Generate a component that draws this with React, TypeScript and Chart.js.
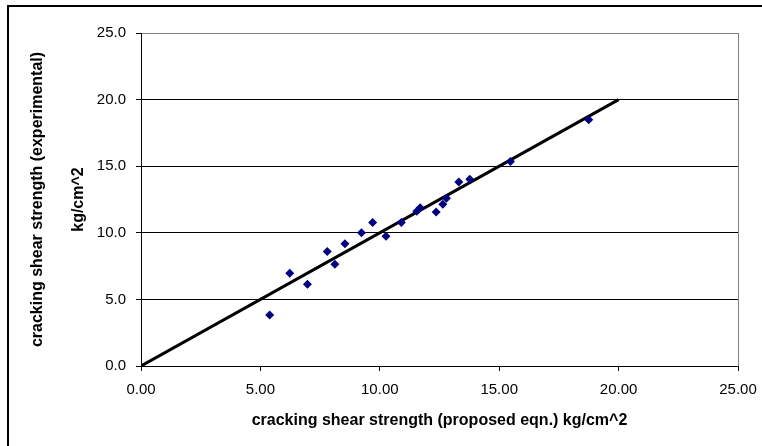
import React, { useEffect, useRef } from "react";
import { Chart, registerables } from "chart.js";

Chart.register(...registerables);

// Proposed equation (x) vs experimental (y) cracking shear strength, kg/cm^2
const proposedX = [5.39, 6.23, 6.97, 7.80, 8.12, 8.54, 9.23, 9.70, 10.26, 10.90, 11.55, 11.69, 12.36, 12.64, 12.79, 13.31, 13.77, 15.47, 18.75];
const experimentalY = [3.83, 6.96, 6.14, 8.60, 7.64, 9.17, 10.00, 10.78, 9.75, 10.78, 11.61, 11.88, 11.56, 12.14, 12.59, 13.82, 14.02, 15.35, 18.49];

// Equality line
const lineX = [0, 20];
const lineY = [0, 20];

const xTitle = "cracking shear strength (proposed eqn.) kg/cm^2";
const yTitle = ["cracking shear strength (experimental)", "kg/cm^2"];

const FONT = "'Liberation Sans', Arial, Helvetica, sans-serif";

const framePlugin = {
  id: "frame",
  beforeDraw(chart: any) {
    const ctx = chart.ctx;
    ctx.save();
    ctx.fillStyle = "#fff";
    ctx.fillRect(0, 0, chart.width, chart.height);
    ctx.strokeStyle = "#000";
    ctx.lineWidth = 2;
    ctx.beginPath();
    ctx.moveTo(8, chart.height);
    ctx.lineTo(8, 6);
    ctx.lineTo(chart.width, 6);
    ctx.stroke();
    ctx.restore();
  },
};

export default function App() {
  const ref = useRef<HTMLCanvasElement | null>(null);

  useEffect(() => {
    if (!ref.current) return;
    const chart = new Chart(ref.current, {
      type: "scatter",
      data: {
        datasets: [
          {
            type: "line",
            label: "y = x",
            data: lineX.map((x, i) => ({ x, y: lineY[i] })),
            borderColor: "#000",
            borderWidth: 3,
            pointRadius: 0,
            fill: false,
            order: 2,
          } as any,
          {
            label: "data",
            data: proposedX.map((x, i) => ({ x, y: experimentalY[i] })),
            pointStyle: "rectRot",
            pointRadius: 4.5,
            backgroundColor: "#000080",
            borderColor: "#000080",
            borderWidth: 0,
            order: 1,
          },
        ],
      },
      options: {
        responsive: false,
        animation: false,
        layout: { padding: { left: 0, top: 33, right: 24, bottom: 0 } },
        plugins: {
          legend: { display: false },
          tooltip: { enabled: false },
        },
        scales: {
          x: {
            type: "linear",
            min: 0,
            max: 25,
            ticks: {
              stepSize: 5,
              padding: 10,
              color: "#000",
              font: { family: FONT, size: 15 },
              callback: (v: any) => Number(v).toFixed(2),
            },
            grid: {
              color: (c: any) => (c.tick && c.tick.value === 25 ? "#808080" : "rgba(0,0,0,0)"),
              tickColor: "#000",
              tickLength: 5,
              lineWidth: 1,
            },
            border: { display: true, color: "#000", width: 1 },
            title: {
              display: true,
              text: xTitle,
              color: "#000",
              font: { family: FONT, size: 16, weight: "bold" },
              padding: { top: 0, bottom: 16 },
            },
            afterFit: (s: any) => {
              s.height = 80;
              s.paddingLeft = 0;
              s.paddingRight = 0;
            },
          },
          y: {
            type: "linear",
            min: 0,
            max: 25,
            ticks: {
              stepSize: 5,
              padding: 10,
              color: "#000",
              font: { family: FONT, size: 15 },
              callback: (v: any) => Number(v).toFixed(1),
            },
            grid: {
              color: (c: any) => (c.tick && c.tick.value === 25 ? "#808080" : "#000"),
              tickColor: "#000",
              tickLength: 5,
              lineWidth: 1,
            },
            border: { display: true, color: "#000", width: 1 },
            title: {
              display: true,
              text: yTitle,
              color: "#000",
              font: { family: FONT, size: 16, weight: "bold", lineHeight: "41px" },
              padding: { top: 17, bottom: 0 },
            },
            afterFit: (s: any) => {
              s.width = 141;
              s.paddingTop = 0;
              s.paddingBottom = 0;
            },
          },
        },
      } as any,
      plugins: [framePlugin],
    });
    return () => chart.destroy();
  }, []);

  return (
    <div style={{ position: "fixed", left: 0, top: 0, width: 762, height: 446, background: "#fff" }}>
      <canvas ref={ref} width={762} height={446} style={{ display: "block", width: 762, height: 446 }} />
    </div>
  );
}
